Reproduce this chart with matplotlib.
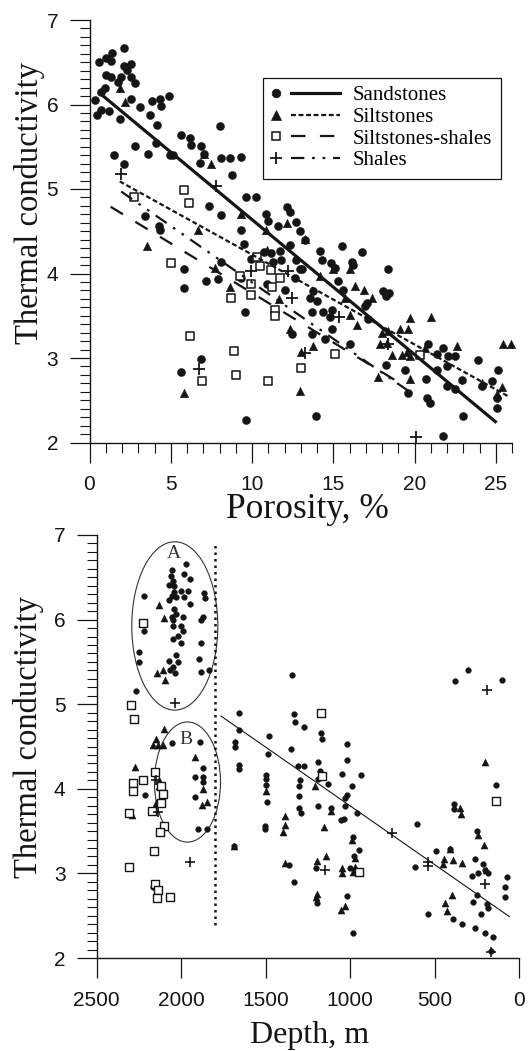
import matplotlib
matplotlib.use("Agg")
import matplotlib.pyplot as plt
import numpy as np
from matplotlib.patches import Ellipse
from matplotlib.lines import Line2D
from matplotlib.legend_handler import HandlerBase
from matplotlib.ticker import MultipleLocator

plt.rcParams['font.family'] = ['Liberation Sans', 'DejaVu Sans']
SERIF = ['Liberation Serif', 'DejaVu Serif']
INK = '#151515'

# ---------------- data: upper panel (porosity %, thermal conductivity) ----------------
sand_points = [
    (2.10, 6.67), (1.39, 6.61), (1.04, 6.55), (1.31, 6.52), (0.58, 6.50), (2.10, 6.46), (2.58, 6.48),
    (2.31, 6.41), (1.04, 6.35), (1.35, 6.33), (1.96, 6.33), (2.54, 6.33), (1.76, 6.27), (2.79, 6.25),
    (0.93, 6.20), (0.73, 6.15), (0.36, 6.05), (2.58, 6.07), (0.73, 5.94), (1.18, 5.92), (0.49, 5.87),
    (3.09, 5.97), (3.85, 6.04), (4.32, 6.07), (4.89, 6.10), (4.38, 5.98), (3.71, 5.88), (1.89, 5.83),
    (4.18, 5.76), (8.01, 5.74), (5.65, 5.64), (6.17, 5.60), (6.23, 5.52), (6.84, 5.51), (4.12, 5.54),
    (2.83, 5.51), (1.51, 5.40), (3.60, 5.42), (4.94, 5.40), (5.14, 5.40), (7.05, 5.42), (6.82, 5.31),
    (8.11, 5.37), (8.63, 5.37), (9.30, 5.38), (8.79, 5.17), (2.12, 5.29), (9.65, 4.91), (10.27, 4.90),
    (7.34, 4.80), (8.07, 4.69), (3.40, 4.68), (4.27, 4.56), (9.34, 4.52), (10.88, 4.70), (10.99, 4.62),
    (12.17, 4.79), (12.32, 4.73), (11.61, 4.56), (12.73, 4.61), (12.94, 4.50),
    (5.79, 4.05), (5.79, 3.83), (7.19, 3.91), (7.91, 3.93), (8.11, 4.14), (9.51, 4.35), (9.96, 4.17),
    (11.19, 4.24), (11.70, 4.27), (12.32, 4.34), (12.73, 4.16), (12.94, 4.05), (12.01, 3.81),
    (12.63, 3.95), (9.34, 3.95), (10.94, 3.87), (9.55, 3.54), (6.88, 2.99), (5.65, 2.83), (9.65, 2.27),
    (12.47, 3.28), (11.30, 4.14), (11.80, 4.16), (4.32, 4.52), (10.72, 4.26),
    (13.26, 4.40), (14.18, 4.27), (14.28, 4.16), (14.84, 4.12), (15.51, 4.32), (16.75, 4.25),
    (15.11, 4.07), (16.13, 4.14), (16.24, 4.10), (15.32, 3.91), (15.62, 3.81), (18.39, 4.05),
    (18.04, 3.79), (18.45, 3.77), (18.24, 3.73), (13.05, 4.05), (13.78, 3.79), (13.57, 3.71),
    (13.98, 3.67), (13.67, 3.55), (14.39, 3.55), (14.90, 3.57), (14.80, 3.49), (17.06, 3.65),
    (16.95, 3.61), (17.16, 3.46), (14.90, 3.34), (13.67, 3.28), (14.49, 3.22), (16.03, 3.16),
    (13.94, 2.31), (18.24, 2.92), (19.41, 2.86), (19.62, 2.59), (20.71, 2.75), (20.74, 2.53),
    (20.94, 2.47), (20.85, 3.17), (21.37, 3.05), (21.77, 3.12), (21.37, 2.86), (21.98, 2.90),
    (22.08, 3.02), (22.49, 3.02), (21.98, 2.67), (22.49, 2.63), (22.90, 2.74), (23.00, 2.31),
    (23.93, 2.98), (24.13, 2.67), (24.75, 2.73), (25.16, 2.86), (25.06, 2.53), (25.06, 2.41),
    (21.73, 2.08),
]
silt_points = [
    (1.85, 6.20), (2.16, 6.03), (7.05, 5.42), (7.45, 5.30), (9.34, 4.71), (12.18, 4.60), (10.88, 4.52),
    (6.68, 4.52), (3.56, 4.33), (7.71, 4.06), (8.63, 3.84), (10.94, 4.28), (11.65, 3.70), (12.32, 3.34),
    (13.03, 3.07), (12.94, 2.61), (5.82, 2.59), (14.18, 3.97), (15.01, 4.05), (16.03, 4.05),
    (16.34, 3.85), (16.91, 3.81), (17.37, 3.71), (15.72, 3.71), (16.03, 3.51), (16.45, 3.39),
    (17.98, 3.30), (18.39, 3.32), (19.11, 3.34), (19.62, 3.34), (19.72, 3.47), (21.00, 3.49),
    (17.88, 3.16), (18.29, 3.18), (18.60, 3.03), (19.21, 3.03), (19.52, 3.07), (19.72, 3.02),
    (19.72, 2.75), (17.74, 2.78), (22.60, 3.14), (24.13, 2.71), (25.06, 2.57), (25.36, 2.66),
    (25.42, 3.16), (25.92, 3.16), (13.74, 3.14), (20.64, 3.12), (13.28, 4.41),
]
siltshale_points = [
    (2.74, 4.91), (5.82, 4.99), (6.13, 4.83), (5.00, 4.12), (8.69, 3.71), (9.24, 3.97), (9.92, 3.87),
    (9.92, 3.75), (10.33, 4.20), (10.47, 4.09), (11.15, 4.04), (11.70, 3.95), (11.26, 3.84),
    (11.44, 3.57), (11.44, 3.50), (6.21, 3.26), (8.90, 3.08), (9.04, 2.80), (6.90, 2.73), (10.99, 2.73),
    (12.99, 2.88), (15.11, 3.05), (20.34, 3.04),
]
shale_points = [
    (1.92, 5.18), (7.77, 5.03), (6.74, 2.87), (12.47, 3.71), (9.96, 4.03), (12.22, 4.03), (15.38, 3.49),
    (13.26, 3.06), (18.39, 3.16), (20.10, 2.07),
]
# regression lines: (porosity at ends), (conductivity at ends)
sand_fit = ([0.53, 25.05], [6.15, 2.235])
silt_fit = ([1.86, 25.83], [5.09, 2.54])
siltshale_fit = ([1.30, 19.30], [4.79, 2.68])
shale_fit = ([1.95, 20.00], [4.97, 2.56])
legend_names = ['Sandstones', 'Siltstones', 'Siltstones-shales', 'Shales']
porosity_ticks = [0, 5, 10, 15, 20, 25]

# ---------------- data: lower panel (depth m, thermal conductivity) ----------------
sand_depth = [
    (1971, 6.66), (2054, 6.59), (1985, 6.54), (1951, 6.48), (2060, 6.51), (2050, 6.46), (2074, 6.41),
    (2040, 6.40), (2001, 6.34), (1961, 6.34), (2044, 6.33), (2054, 6.28), (2070, 6.23), (2030, 6.27),
    (1981, 6.27), (1951, 6.19), (1863, 6.32), (1857, 6.25), (2218, 6.28), (2040, 6.12), (2030, 6.07),
    (1991, 6.03), (2054, 6.03), (2046, 5.99), (2050, 5.92), (2001, 5.92), (1991, 5.86), (2020, 5.81),
    (2046, 5.77), (2001, 5.72), (1872, 6.03), (1882, 5.99), (2218, 5.87), (1882, 5.72), (2251, 5.62),
    (2251, 5.50), (2030, 5.58), (2020, 5.50), (2070, 5.51), (2046, 5.44), (2066, 5.40), (2038, 5.37),
    (1896, 5.54), (1882, 5.38), (1833, 5.40), (2267, 5.16), (1344, 5.35), (1661, 4.90), (1334, 4.88),
    (1326, 4.79), (1271, 4.73), (1659, 4.69), (1482, 4.62),
    (381, 5.27), (306, 5.40), (105, 5.29), (1175, 4.66), (1169, 4.59), (1022, 4.53),
    (2212, 3.93), (2054, 4.54), (1886, 4.55), (1869, 4.24), (1916, 4.14), (1869, 4.14), (1869, 4.08),
    (1916, 3.90), (1902, 3.53), (1847, 3.53), (2164, 2.84), (1679, 4.55), (1679, 4.49), (1656, 4.28),
    (1659, 4.23), (1484, 4.41), (1498, 4.16), (1498, 4.11), (1498, 4.05), (1494, 3.84), (1502, 3.56),
    (1502, 3.53), (1350, 4.47), (1310, 4.27), (1271, 4.27), (1297, 4.10), (1305, 4.03), (1301, 3.92),
    (1305, 3.77), (1291, 3.71), (1364, 3.10), (1334, 2.90), (1685, 3.32),
    (1022, 4.34), (1193, 4.32), (1179, 4.21), (1047, 4.18), (937, 4.16), (1189, 4.12), (1134, 4.06),
    (992, 4.03), (1022, 3.93), (1031, 3.89), (1189, 3.80), (1031, 3.80), (962, 3.71), (1035, 3.64),
    (1055, 3.63), (1114, 3.77), (982, 3.43), (949, 3.28), (976, 3.20), (1205, 3.06), (1002, 3.06),
    (1022, 2.73), (1199, 2.65), (982, 2.30), (607, 3.58), (617, 3.07), (495, 3.27), (538, 2.52),
    (385, 3.82), (387, 3.76), (391, 2.46), (341, 2.40), (262, 2.36), (203, 2.30), (158, 2.25),
    (262, 3.17), (278, 2.97), (247, 3.01), (213, 3.11), (203, 3.04), (187, 3.01), (272, 2.66),
    (252, 2.74), (193, 2.64), (187, 2.59), (227, 2.52), (252, 3.50), (138, 4.05), (71, 2.96),
    (85, 2.84), (85, 2.72), (410, 3.29), (167, 2.08),
]
silt_depth = [
    (2133, 6.17), (2099, 6.02), (2145, 5.37), (2109, 5.40), (2093, 5.29), (2099, 4.71), (2149, 4.59),
    (2271, 4.26), (2283, 4.08), (2129, 4.10), (2129, 4.03), (2149, 3.83), (2291, 3.69), (1916, 4.38),
    (1869, 4.00), (1876, 3.81), (1849, 3.84), (2168, 4.52), (2139, 4.52), (2109, 4.52), (1685, 3.32),
    (1498, 3.97), (1389, 3.68), (1389, 3.57), (1399, 3.49), (1389, 3.12),
    (1209, 4.03), (1114, 3.74), (1154, 3.55), (988, 3.40), (1199, 3.15), (1146, 3.20), (1047, 3.06),
    (1047, 3.00), (972, 3.18), (972, 3.08), (982, 3.02), (1199, 2.76), (1205, 2.72), (1055, 2.57),
    (1031, 2.61), (410, 3.29), (444, 3.17), (450, 3.11), (391, 3.16), (341, 3.12), (351, 3.77),
    (345, 3.70), (203, 4.32), (209, 3.34), (243, 3.45), (197, 3.04), (400, 2.74), (440, 2.65),
    (430, 2.55),
]
siltshale_depth = [
    (2227, 5.96), (2296, 4.99), (2277, 4.82), (2158, 4.20), (2287, 4.07), (2227, 4.10), (2283, 3.97),
    (2119, 4.03), (2109, 3.94), (2119, 3.83), (2172, 3.74), (2310, 3.71), (2103, 3.56), (2123, 3.49),
    (2162, 3.26), (2310, 3.07), (2158, 2.87), (2139, 2.80), (2145, 2.71), (2066, 2.72), (1173, 4.90),
    (1165, 4.15), (949, 3.02), (138, 3.86),
]
shale_depth = [
    (2034, 5.02), (193, 5.17), (1951, 3.13), (2139, 3.73), (2152, 4.10), (1150, 3.04), (751, 3.48),
    (538, 3.13), (538, 3.09), (203, 2.87), (167, 2.07),
]
depth_fit = ([1765, 59], [4.86, 2.49])
boundary = ([1800, 1800], [2.39, 6.88])
group_A = dict(center=(2038, 5.925), width=509, height=1.99, label='A', label_pos=(2046, 6.78))
group_B = dict(center=(1963, 4.08), width=391, height=1.42, label='B', label_pos=(1972, 4.58))
depth_ticks = [2500, 2000, 1500, 1000, 500, 0]
cond_ticks = [2, 3, 4, 5, 6, 7]

# ---------------- figure ----------------
W, H = 529, 1051
fig = plt.figure(figsize=(W / 100, H / 100), dpi=100)


def px_axes(l, r, t, b):
    return [l / W, 1 - b / H, (r - l) / W, (b - t) / H]


ax1 = fig.add_axes(px_axes(89.5, 512, 20, 442.5))
ax2 = fig.add_axes(px_axes(96.7, 519.3, 535, 958))


def style(ax):
    for s in ('top', 'right'):
        ax.spines[s].set_visible(False)
    for s in ('left', 'bottom'):
        ax.spines[s].set_linewidth(1.0)
        ax.spines[s].set_color(INK)
    ax.tick_params(which='major', direction='out', length=14.5, width=0.9, color=INK,
                   labelsize=15, labelcolor=INK)
    ax.tick_params(which='minor', direction='out', length=7.5, width=0.8, color=INK)
    ax.tick_params(axis='y', which='major', pad=8)
    ax.tick_params(axis='x', which='major', pad=9)
    ax.set_yticks(cond_ticks)
    ax.yaxis.set_minor_locator(MultipleLocator(0.1))
    ax.set_ylim(2, 7)


def scatter(ax, pts, marker, s, kind, lw=1.0):
    arr = np.array(pts, dtype=float)
    if kind == 'filled':
        ax.scatter(arr[:, 0], arr[:, 1], s=s, marker=marker, facecolors=INK, edgecolors=INK,
                   linewidths=0.3, clip_on=False, zorder=3)
    elif kind == 'hollow':
        ax.scatter(arr[:, 0], arr[:, 1], s=s, marker=marker, facecolors='white', edgecolors=INK,
                   linewidths=lw, clip_on=False, zorder=3)
    else:
        ax.scatter(arr[:, 0], arr[:, 1], s=s, marker=marker, color=INK,
                   linewidths=lw, clip_on=False, zorder=3)


style(ax1)
ax1.set_xlim(0, 26)
ax1.set_xticks(porosity_ticks)
ax1.xaxis.set_minor_locator(MultipleLocator(1))

scatter(ax1, sand_points, 'o', 34, 'filled')
scatter(ax1, silt_points, '^', 38, 'filled')
scatter(ax1, siltshale_points, 's', 32, 'hollow', 1.1)
scatter(ax1, shale_points, '+', 70, 'plus', 1.3)

ls_sand = '-'
ls_silt = (0, (2.2, 1.2))
ls_siltshale = (0, (6.5, 6.5))
ls_shale = (0, (6, 3.5, 1.2, 3.5, 1.2, 3.5))
ax1.plot(*sand_fit, color=INK, lw=2.3, ls=ls_sand, zorder=4, solid_capstyle='butt')
ax1.plot(*silt_fit, color=INK, lw=1.6, ls=ls_silt, zorder=4)
ax1.plot(*siltshale_fit, color=INK, lw=1.6, ls=ls_siltshale, zorder=4)
ax1.plot(*shale_fit, color=INK, lw=1.6, ls=ls_shale, zorder=4)


class LegendEntry:
    def __init__(self, marker, ms, mfc, mew, ls, lw):
        self.marker, self.ms, self.mfc, self.mew, self.ls, self.lw = marker, ms, mfc, mew, ls, lw


class MarkerThenLine(HandlerBase):
    def create_artists(self, legend, h, xdescent, ydescent, width, height, fontsize, trans):
        y = (height - ydescent) / 2
        x0 = -xdescent
        m = Line2D([x0 + 0.08 * width], [y], linestyle='none', marker=h.marker, markersize=h.ms,
                   markerfacecolor=h.mfc, markeredgecolor=INK, markeredgewidth=h.mew)
        ln = Line2D([x0 + 0.3 * width, x0 + width], [y, y], color=INK, lw=h.lw, linestyle=h.ls)
        m.set_transform(trans)
        ln.set_transform(trans)
        return [m, ln]


entries = [
    LegendEntry('o', 6.2, INK, 0.5, ls_sand, 2.3),
    LegendEntry('^', 6.5, INK, 0.5, ls_silt, 1.6),
    LegendEntry('s', 5.8, 'white', 1.1, ls_siltshale, 1.6),
    LegendEntry('+', 8.0, INK, 1.3, ls_shale, 1.6),
]
leg = ax1.legend(entries, legend_names, handler_map={LegendEntry: MarkerThenLine()},
                 loc='upper left', bbox_to_anchor=(262.5 / W, 1 - 77.5 / H),
                 bbox_transform=fig.transFigure, borderaxespad=0,
                 prop={'family': SERIF, 'size': 15}, handlelength=3.3, handletextpad=0.65,
                 labelspacing=0.1, borderpad=0.4, fancybox=False, framealpha=1, edgecolor=INK)
leg.get_frame().set_linewidth(0.9)

ax1.set_xlabel('Porosity, %', fontfamily=SERIF, fontsize=25.5, color=INK)
ax1.set_ylabel('Thermal conductivity', fontfamily=SERIF, fontsize=23.5, color=INK)
ax1.xaxis.set_label_coords((307 - 89.5) / 422.5, (442.5 - 509) / 422.5)
ax1.xaxis.label.set_va('center')
ax1.yaxis.set_label_coords((29.5 - 89.5) / 422.5, (442.5 - 202.5) / 422.5)
ax1.yaxis.label.set_va('center')
ax1.yaxis.label.set_rotation_mode('default')

# lower panel
style(ax2)
ax2.set_xlim(2500, 0)
ax2.set_xticks(depth_ticks)

scatter(ax2, sand_depth, 'o', 17, 'filled')
scatter(ax2, silt_depth, '^', 26, 'filled')
scatter(ax2, siltshale_depth, 's', 26, 'hollow', 1.0)
scatter(ax2, shale_depth, '+', 60, 'plus', 1.2)

ax2.plot(*depth_fit, color=INK, lw=0.8, zorder=4)
ax2.plot(*boundary, color=INK, lw=1.8, ls=(0, (1, 1.6)), zorder=4)
for g in (group_A, group_B):
    ax2.add_patch(Ellipse(g['center'], g['width'], g['height'], fill=False, lw=0.8,
                          edgecolor='#333333', zorder=2))
    ax2.text(*g['label_pos'], g['label'], family=SERIF, fontsize=14, color='#333333',
             ha='center', va='center', zorder=5)

ax2.set_xlabel('Depth, m', fontfamily=SERIF, fontsize=23, color=INK)
ax2.set_ylabel('Thermal conductivity', fontfamily=SERIF, fontsize=23.5, color=INK)
ax2.xaxis.set_label_coords((309.5 - 96.7) / 422.6, (958 - 1035) / 423)
ax2.xaxis.label.set_va('center')
ax2.yaxis.set_label_coords((28.7 - 96.7) / 422.6, (958 - 737) / 423)
ax2.yaxis.label.set_va('center')
ax2.yaxis.label.set_rotation_mode('default')

fig.savefig('out.png', dpi=100)
